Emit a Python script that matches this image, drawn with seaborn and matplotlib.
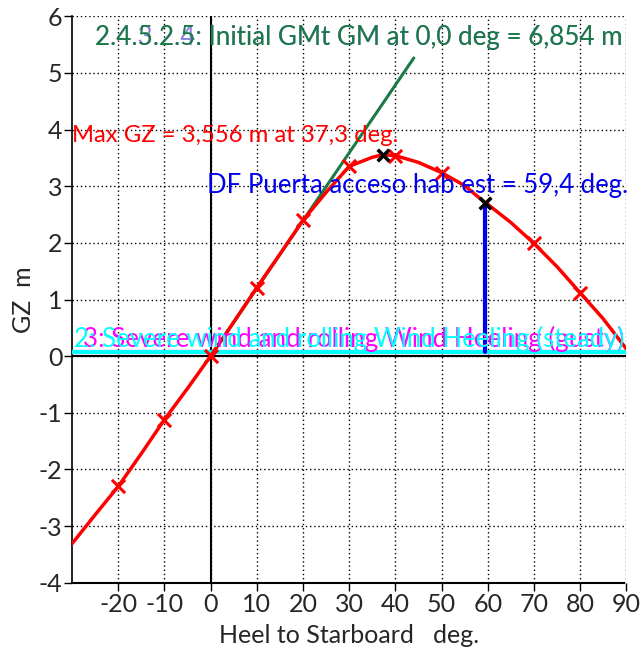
import numpy as np
import pandas as pd
import matplotlib
matplotlib.use("Agg")
import matplotlib.pyplot as plt
import seaborn as sns

# ---- data ----
heel = [-30, -25, -20, -15, -10, -5, 0, 5, 10, 15, 20, 25, 30, 35, 37.3, 40, 45, 50, 55, 59.4, 60, 65, 70, 75, 80, 85, 90]
gz = [-3.31, -2.80, -2.30, -1.72, -1.12, -0.57, 0.0, 0.60, 1.21, 1.80, 2.40, 2.89, 3.35, 3.51, 3.556, 3.54, 3.42, 3.24, 3.01, 2.71, 2.68, 2.36, 1.99, 1.58, 1.12, 0.66, 0.13]
marker_heel = [-20, -10, 0, 10, 20, 30, 40, 50, 70, 80]
marker_gz = [-2.30, -1.12, 0.0, 1.21, 2.40, 3.35, 3.54, 3.24, 1.99, 1.12]
key_heel = [37.3, 59.4]
key_gz = [3.556, 2.71]
gm_heel = [0, 44]
gm_value = 6.854
wind_lever = 0.08
x_ticks = [-20, -10, 0, 10, 20, 30, 40, 50, 60, 70, 80, 90]
y_ticks = [-4, -3, -2, -1, 0, 1, 2, 3, 4, 5, 6]

sns.set_style("white")
plt.rcParams["font.family"] = ["Lato", "DejaVu Sans"]
plt.rcParams["axes.unicode_minus"] = False

fig = plt.figure(figsize=(6.43, 6.49), dpi=100)
ax = fig.add_axes([0.112, 0.102, 0.862, 0.873])

df = pd.DataFrame({"heel": heel, "gz": gz})
dm = pd.DataFrame({"heel": marker_heel, "gz": marker_gz})
dk = pd.DataFrame({"heel": key_heel, "gz": key_gz})
dg = pd.DataFrame({"heel": gm_heel, "gz": [h * gm_value / 57.3 for h in gm_heel]})

ax.set_xlim(-30, 90)
ax.set_ylim(-4, 6)
ax.set_xticks(x_ticks)
ax.set_yticks(y_ticks)
ax.grid(True, color="black", linestyle=(0, (1, 2)), linewidth=1.0)
ax.set_axisbelow(True)
for s in ["top", "right"]:
    ax.spines[s].set_visible(False)
ax.spines["left"].set_color("black")
ax.spines["left"].set_linewidth(1.2)
ax.spines["bottom"].set_color("black")
ax.spines["bottom"].set_linestyle((0, (1, 1)))
ax.spines["bottom"].set_linewidth(1.5)

ax.axvline(0, color="black", lw=1.5, zorder=2)
ax.axhline(0, color="black", lw=1.5, zorder=2)

# wind heeling lines
ax.plot([-30, 90], [wind_lever, wind_lever], color="magenta", lw=3, zorder=3)
ax.plot([-30, 90], [wind_lever, wind_lever], color="cyan", lw=3, zorder=3)

# down-flooding vertical
ax.plot([key_heel[1], key_heel[1]], [wind_lever, key_gz[1]], color="#0000ee", lw=3, zorder=3)

sns.lineplot(data=dg, x="heel", y="gz", color="#1a7a45", lw=2.2, ax=ax, zorder=4)
sns.lineplot(data=df, x="heel", y="gz", color="red", lw=2.5, ax=ax, zorder=5, sort=False)
sns.scatterplot(data=dm, x="heel", y="gz", marker="x", s=90, color="red", linewidth=2.2, ax=ax, zorder=6)
sns.scatterplot(data=dk, x="heel", y="gz", marker="x", s=70, color="black", linewidth=2.6, ax=ax, zorder=7)

ax.text(-25, 5.63, "2.4.3.2.4: Initial GMt GM at 0,0 deg = 6,854 m", color="#8a7fd8", fontsize=18.7, va="center", ha="left", zorder=8)
ax.text(-25, 5.63, "2.4.5.2.5: Initial GMt GM at 0,0 deg = 6,854 m", color="#1a7a45", fontsize=18.7, va="center", ha="left", zorder=9)
ax.text(-30, 3.90, "Max GZ = 3,556 m at 37,3 deg.", color="red", fontsize=17.2, va="center", ha="left", zorder=9)
ax.text(-0.8, 3.01, "DF Puerta acceso hab est = 59,4 deg.", color="#0000ee", fontsize=18.5, va="center", ha="left", zorder=9)
ax.text(89.5, 0.31, "3: Severe wind and rolling Wind Heeling (gusty)", color="magenta", fontsize=18.7, va="center", ha="right", zorder=8)
ax.text(89.5, 0.31, "2: Severe wind and rolling Wind Heeling (steady)", color="cyan", fontsize=18.5, va="center", ha="right", zorder=9)

ax.tick_params(axis="both", which="major", labelsize=18, length=6, width=1, color="black", direction="out", pad=1, bottom=True, left=True)
ax.set_xlabel("Heel to Starboard   deg.", fontsize=18, labelpad=6)
ax.set_ylabel("GZ  m", fontsize=18)
ax.yaxis.set_label_coords(-0.066, 0.5)

fig.savefig("out.png", dpi=100)
